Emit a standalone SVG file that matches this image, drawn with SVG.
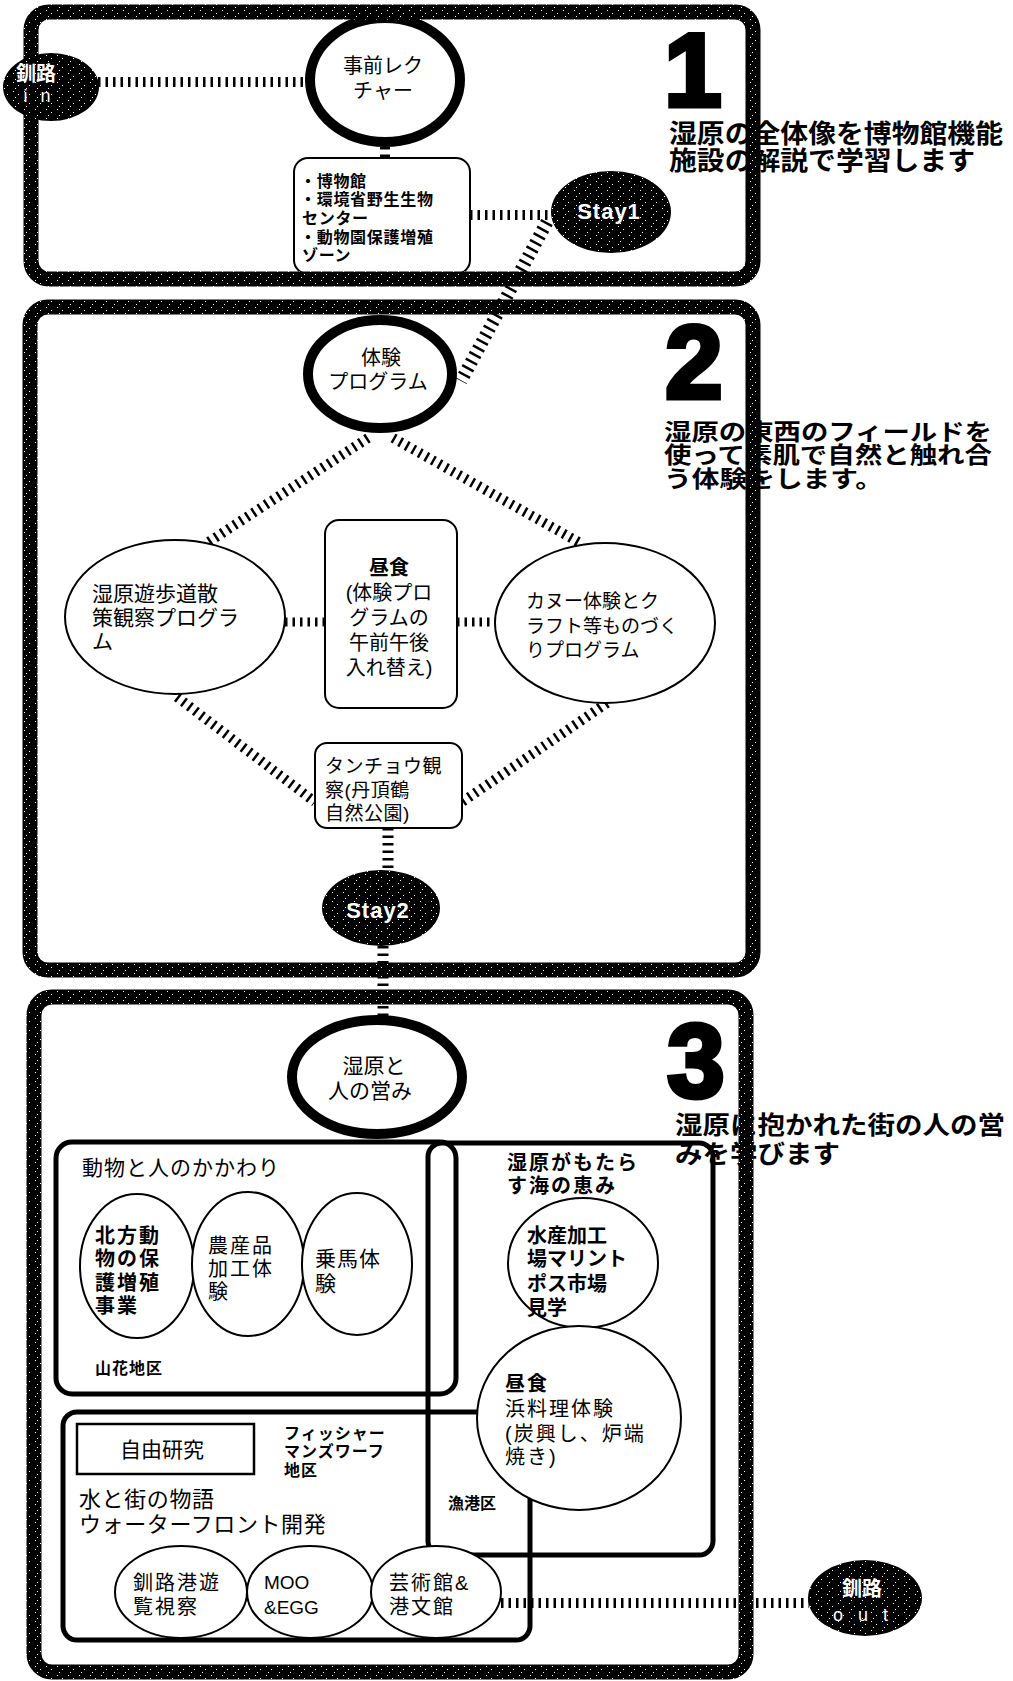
<svg xmlns="http://www.w3.org/2000/svg" width="1013" height="1681" viewBox="0 0 1013 1681">
<defs>
<pattern id="speck" width="11" height="9" patternUnits="userSpaceOnUse">
<rect width="11" height="9" fill="#000"/>
<rect x="2" y="1" width="1" height="1" fill="#fff"/>
<rect x="7" y="4" width="1" height="1" fill="#fff"/>
<rect x="4" y="7" width="1" height="1" fill="#fff"/>
</pattern>
</defs>
<style>
.frame{fill:none;stroke:url(#speck);stroke-width:15}
.zone{fill:none;stroke:#000;stroke-width:5}
.hub{fill:#fff;stroke:#000;stroke-width:10}
.node{fill:#fff;stroke:#000;stroke-width:2}
.sq{fill:none;stroke:#000;stroke-width:2.5}
.dark{fill:url(#speck);stroke:none}
.conn{fill:none;stroke:#000;stroke-width:10;stroke-dasharray:2.5 5}
text{font-family:"Liberation Sans","Noto Sans CJK JP",sans-serif;fill:#000}
.b{font-weight:bold}
.w{fill:#fff}
.m{text-anchor:middle}
.num{font-weight:bold;font-size:103px;stroke:#000;stroke-width:5;text-anchor:middle}
.d1{font-size:26px;font-weight:bold}
.d2{font-size:23px;font-weight:bold}
.d3{font-size:25px;font-weight:bold}
</style>

<!-- descriptions (under the frames) -->
<g id="desc1">
<text class="num" x="693" y="106">1</text>
<text class="d1" x="669" y="143" textLength="334" lengthAdjust="spacingAndGlyphs">湿原の全体像を博物館機能</text>
<text class="d1" x="669" y="170" textLength="306" lengthAdjust="spacingAndGlyphs">施設の解説で学習します</text>
</g>
<g id="desc2">
<text class="num" x="694" y="398">2</text>
<text class="d2" x="664" y="440" textLength="328" lengthAdjust="spacingAndGlyphs">湿原の東西のフィールドを</text>
<text class="d2" x="664" y="463" textLength="328" lengthAdjust="spacingAndGlyphs">使って素肌で自然と触れ合</text>
<text class="d2" x="664" y="487" textLength="219" lengthAdjust="spacingAndGlyphs">う体験をします。</text>
</g>
<g id="desc3">
<text class="num" x="696" y="1097">3</text>
<text class="d3" x="675" y="1134" textLength="330" lengthAdjust="spacingAndGlyphs">湿原に抱かれた街の人の営</text>
<text class="d3" x="675" y="1163" textLength="165" lengthAdjust="spacingAndGlyphs">みを学びます</text>
</g>

<!-- zones -->
<g id="zone-animals">
<rect class="zone" x="56" y="1142" width="400" height="252" rx="16"/>
<text x="82" y="1175" style="font-size:21px;letter-spacing:1px">動物と人のかかわり</text>
<text class="b" x="95" y="1374" style="font-size:16px;letter-spacing:1px">山花地区</text>
</g>
<g id="zone-sea">
<rect class="zone" x="428" y="1143" width="285" height="412" rx="14"/>
<text class="b" style="font-size:20px;letter-spacing:2px"><tspan x="507" y="1170">湿原がもたら</tspan><tspan x="507" y="1193">す海の恵み</tspan></text>
<text class="b" x="448" y="1509" style="font-size:16px">漁港区</text>
</g>
<g id="zone-water">
<rect class="zone" x="63" y="1412" width="467" height="228" rx="14"/>
<text style="font-size:22px;letter-spacing:0.6px"><tspan x="79" y="1507">水と街の物語</tspan><tspan x="79" y="1532">ウォーターフロント開発</tspan></text>
<text class="b" style="font-size:16px;letter-spacing:1px"><tspan x="284" y="1439">フィッシャー</tspan><tspan x="284" y="1457">マンズワーフ</tspan><tspan x="284" y="1476">地区</tspan></text>
</g>

<!-- connectors -->
<g id="connectors">
<path class="conn" d="M98 82 H307"/>
<path class="conn" d="M385 147 V157"/>
<path class="conn" d="M470 215 H552"/>
<path class="conn" d="M547 222 L461 381" style="stroke-width:13"/>
<path class="conn" d="M368 438 L207 543"/>
<path class="conn" d="M393 438 L582 544"/>
<path class="conn" d="M285 622 H325" style="stroke-width:9"/>
<path class="conn" d="M457 622 H496" style="stroke-width:9"/>
<path class="conn" d="M177 697 L315 802"/>
<path class="conn" d="M607 703 L462 802"/>
<path class="conn" d="M388 828 V870" style="stroke-width:11"/>
<path class="conn" d="M383 946 V1016" style="stroke-width:11"/>
<path class="conn" d="M501 1603 H809"/>
</g>

<!-- nodes -->
<g id="node-lecture">
<ellipse class="hub" cx="385" cy="80" rx="75" ry="62"/>
<text class="m" style="font-size:20px"><tspan x="383" y="73">事前レク</tspan><tspan x="383" y="98">チャー</tspan></text>
</g>
<g id="node-facility">
<rect class="node" x="294" y="158" width="176" height="116" rx="14"/>
<text class="b" style="font-size:16px;letter-spacing:0.7px"><tspan x="300" y="187">・博物館</tspan><tspan x="300" y="205">・環境省野生生物</tspan><tspan x="302" y="224">センター</tspan><tspan x="300" y="243">・動物園保護増殖</tspan><tspan x="302" y="261">ゾーン</tspan></text>
</g>
<g id="node-stay1">
<ellipse class="dark" cx="611" cy="212" rx="60" ry="41"/>
<text class="w b m" x="609" y="219" style="font-size:22px;letter-spacing:1px">Stay1</text>
</g>
<g id="node-taiken">
<ellipse class="hub" cx="380" cy="374" rx="72" ry="54"/>
<text class="m" style="font-size:20px"><tspan x="381" y="365">体験</tspan><tspan x="378" y="389">プログラム</tspan></text>
</g>
<g id="node-walk">
<ellipse class="node" cx="175" cy="617" rx="110" ry="77"/>
<text style="font-size:21px"><tspan x="92" y="601">湿原遊歩道散</tspan><tspan x="92" y="625">策観察プログラ</tspan><tspan x="92" y="649">ム</tspan></text>
</g>
<g id="node-lunch1">
<rect class="node" x="325" y="520" width="132" height="188" rx="14"/>
<text class="m" style="font-size:20px"><tspan x="389" y="575" font-weight="bold">昼食</tspan><tspan x="389" y="600">(体験プロ</tspan><tspan x="389" y="625">グラムの</tspan><tspan x="389" y="650">午前午後</tspan><tspan x="389" y="675">入れ替え)</tspan></text>
</g>
<g id="node-canoe">
<ellipse class="node" cx="605" cy="623" rx="110" ry="80"/>
<text style="font-size:19px"><tspan x="526" y="608">カヌー体験とク</tspan><tspan x="526" y="633">ラフト等ものづく</tspan><tspan x="526" y="657">りプログラム</tspan></text>
</g>
<g id="node-tancho">
<rect class="node" x="315" y="743" width="147" height="85" rx="12"/>
<text style="font-size:19px;letter-spacing:0.5px"><tspan x="325" y="773">タンチョウ観</tspan><tspan x="325" y="797">察(丹頂鶴</tspan><tspan x="325" y="820">自然公園)</tspan></text>
</g>
<g id="node-stay2">
<ellipse class="dark" cx="381" cy="908" rx="59" ry="38"/>
<text class="w b m" x="378" y="918" style="font-size:22px;letter-spacing:1px">Stay2</text>
</g>
<g id="node-hito">
<ellipse class="hub" cx="377" cy="1077" rx="85" ry="57"/>
<text class="m" style="font-size:21px"><tspan x="374" y="1073">湿原と</tspan><tspan x="370" y="1098">人の営み</tspan></text>
</g>
<g id="node-hoppo">
<ellipse class="node" cx="137" cy="1266" rx="57" ry="72"/>
<text class="b" style="font-size:20px;letter-spacing:2px"><tspan x="95" y="1243">北方動</tspan><tspan x="95" y="1266">物の保</tspan><tspan x="95" y="1290">護増殖</tspan><tspan x="95" y="1313">事業</tspan></text>
</g>
<g id="node-nousan">
<ellipse class="node" cx="248" cy="1264" rx="56" ry="72"/>
<text style="font-size:20px;letter-spacing:2px"><tspan x="208" y="1253">農産品</tspan><tspan x="208" y="1276">加工体</tspan><tspan x="208" y="1299">験</tspan></text>
</g>
<g id="node-jouba">
<ellipse class="node" cx="357" cy="1264" rx="55" ry="71"/>
<text style="font-size:21px;letter-spacing:1px"><tspan x="315" y="1266">乗馬体</tspan><tspan x="315" y="1291">験</tspan></text>
</g>
<g id="node-suisan">
<ellipse class="node" cx="583" cy="1263" rx="75" ry="65"/>
<text class="b" style="font-size:20px"><tspan x="527" y="1243">水産加工</tspan><tspan x="527" y="1266">場マリント</tspan><tspan x="527" y="1291">ポス市場</tspan><tspan x="527" y="1315">見学</tspan></text>
</g>
<g id="node-lunch2">
<ellipse class="node" cx="579" cy="1418" rx="102" ry="92"/>
<text style="font-size:20px;letter-spacing:2px"><tspan x="505" y="1391" font-weight="bold">昼食</tspan><tspan x="505" y="1416">浜料理体験</tspan><tspan x="505" y="1441">(炭興し、炉端</tspan><tspan x="505" y="1464">焼き)</tspan></text>
</g>
<g id="node-jiyu">
<rect class="sq" x="77" y="1424" width="177" height="50"/>
<text class="m" x="162" y="1457" style="font-size:21px">自由研究</text>
</g>
<g id="node-port">
<ellipse class="node" cx="181" cy="1592" rx="66" ry="46"/>
<text style="font-size:20px;letter-spacing:2px"><tspan x="133" y="1590">釧路港遊</tspan><tspan x="133" y="1614">覧視察</tspan></text>
</g>
<g id="node-moo">
<ellipse class="node" cx="310" cy="1592" rx="63" ry="46"/>
<text style="font-size:19px"><tspan x="264" y="1589">MOO</tspan><tspan x="264" y="1614">&amp;EGG</tspan></text>
</g>
<g id="node-art">
<ellipse class="node" cx="436" cy="1592" rx="65" ry="46"/>
<text style="font-size:20px;letter-spacing:2px"><tspan x="389" y="1590">芸術館&amp;</tspan><tspan x="389" y="1614">港文館</tspan></text>
</g>
<g id="node-out">
<ellipse class="dark" cx="865" cy="1598" rx="57" ry="38"/>
<text class="w b m" x="862" y="1596" style="font-size:20px">釧路</text>
<text class="w m" x="863" y="1621" style="font-size:18px;letter-spacing:5px">o u t</text>
</g>

<!-- frames -->
<g id="frames">
<rect class="frame" x="31" y="12" width="722" height="267" rx="18"/>
<rect class="frame" x="30" y="307" width="723" height="663" rx="18"/>
<rect class="frame" x="34" y="997" width="712" height="675" rx="18"/>
</g>

<!-- start node sits on top of frame 1 -->
<g id="node-in">
<ellipse class="dark" cx="51" cy="87" rx="48" ry="34"/>
<text class="w b m" x="36" y="81" style="font-size:20px">釧路</text>
<text class="w m" x="39" y="102" style="font-size:18px;letter-spacing:4px">i n</text>
</g>
</svg>
